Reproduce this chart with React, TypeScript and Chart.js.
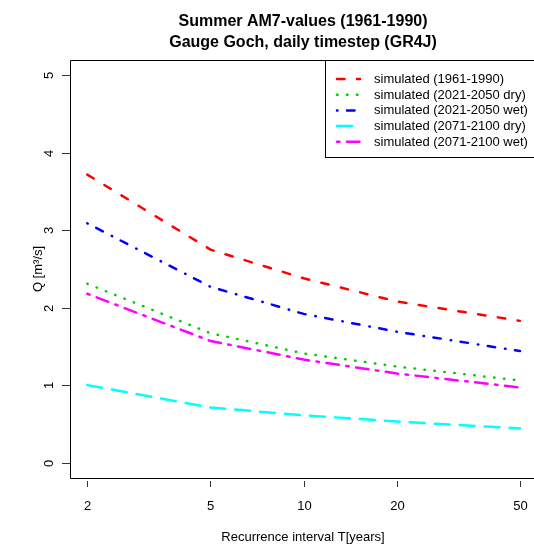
import React, { useEffect, useRef } from "react";
import { Chart, registerables } from "chart.js";

Chart.register(...registerables);

// ---- data ----
const returnPeriods = [2, 5, 10, 20, 50];
const sim1961_1990 = [3.72, 2.75, 2.38, 2.08, 1.83];
const sim2021_2050dry = [2.31, 1.67, 1.41, 1.24, 1.06];
const sim2021_2050wet = [3.09, 2.27, 1.92, 1.69, 1.44];
const sim2071_2100dry = [1.0, 0.71, 0.61, 0.53, 0.44];
const sim2071_2100wet = [2.18, 1.57, 1.33, 1.15, 0.97];

const seriesLabels = [
  "simulated (1961-1990)",
  "simulated (2021-2050 dry)",
  "simulated (2021-2050 wet)",
  "simulated (2071-2100 dry)",
  "simulated (2071-2100 wet)",
];
const seriesValues = [sim1961_1990, sim2021_2050dry, sim2021_2050wet, sim2071_2100dry, sim2071_2100wet];
const seriesColors = ["#FF0000", "#00CD00", "#0000FF", "#00FFFF", "#FF00FF"];
// R lty 2,3,4,5,6 at lwd 2.5 with round caps
const seriesDashes = [
  [7.5, 12.5],
  [0.5, 9.5],
  [0.5, 9.5, 7.5, 10],
  [15, 10],
  [2.5, 7.5, 12.5, 7.5],
];

const xTicks = [2, 5, 10, 20, 50];
const yTicks = [0, 1, 2, 3, 4, 5];
const titleLines = ["Summer AM7-values (1961-1990)", "Gauge Goch, daily timestep (GR4J)"];
const xTitle = "Recurrence interval T[years]";
const yTitle = "Q [m³/s]";

const FONT = "'Liberation Sans', Arial, sans-serif";
const LW = 2.5;

const rPlugin = {
  id: "rstyle",
  afterDraw(chart: any) {
    const { ctx, chartArea: a, scales } = chart;
    const xs = scales.x;
    const ys = scales.y;
    ctx.save();
    ctx.setLineDash([]);
    ctx.strokeStyle = "#000";
    ctx.lineWidth = 1;
    // plot box (right edge extends past canvas)
    ctx.beginPath();
    ctx.rect(a.left + 0.5, a.top + 0.5, a.right - a.left + 12, a.bottom - a.top);
    ctx.stroke();

    ctx.fillStyle = "#000";
    ctx.font = `13px ${FONT}`;
    // y ticks + labels
    ctx.strokeStyle = "#333";
    for (const v of yTicks) {
      const py = Math.round(ys.getPixelForValue(v)) + 0.5;
      ctx.beginPath();
      ctx.moveTo(a.left - 8, py);
      ctx.lineTo(a.left, py);
      ctx.stroke();
      ctx.save();
      ctx.translate(49, py);
      ctx.rotate(-Math.PI / 2);
      ctx.textAlign = "center";
      ctx.textBaseline = "middle";
      ctx.fillText(String(v), 0, 0);
      ctx.restore();
    }
    // x ticks + labels
    for (const v of xTicks) {
      const px = Math.round(xs.getPixelForValue(v)) + 0.5;
      ctx.beginPath();
      ctx.moveTo(px, a.bottom + 3);
      ctx.lineTo(px, a.bottom + 9);
      ctx.stroke();
      ctx.textAlign = "center";
      ctx.textBaseline = "middle";
      ctx.fillText(String(v), px, 506);
    }
    // axis titles
    const cx = 303;
    ctx.textAlign = "center";
    ctx.textBaseline = "middle";
    ctx.fillText(xTitle, cx, 537);
    ctx.save();
    ctx.translate(38, (a.top + a.bottom) / 2);
    ctx.rotate(-Math.PI / 2);
    ctx.fillText(yTitle, 0, 0);
    ctx.restore();

    // main title
    ctx.font = `bold 16px ${FONT}`;
    ctx.textBaseline = "alphabetic";
    ctx.fillText(titleLines[0], cx, 25.5);
    ctx.fillText(titleLines[1], cx, 46.5);

    // legend
    const lx = 325.5;
    const ly = a.top + 0.5;
    ctx.fillStyle = "#fff";
    ctx.fillRect(lx, ly, 220, 97);
    ctx.strokeStyle = "#000";
    ctx.lineWidth = 1;
    ctx.strokeRect(lx, ly, 220, 97);
    ctx.font = `13px ${FONT}`;
    ctx.textAlign = "left";
    ctx.textBaseline = "middle";
    for (let i = 0; i < seriesLabels.length; i++) {
      const y = 79 + i * 15.7;
      ctx.strokeStyle = seriesColors[i];
      ctx.lineWidth = LW;
      ctx.lineCap = "round";
      ctx.setLineDash(seriesDashes[i]);
      ctx.beginPath();
      ctx.moveTo(337, y);
      ctx.lineTo(360, y);
      ctx.stroke();
      ctx.setLineDash([]);
      ctx.fillStyle = "#000";
      ctx.fillText(seriesLabels[i], 374, y + 0.5);
    }
    ctx.restore();
  },
};

export default function App() {
  const ref = useRef<HTMLCanvasElement | null>(null);
  useEffect(() => {
    if (!ref.current) return;
    const chart = new Chart(ref.current, {
      type: "line",
      data: {
        datasets: seriesValues.map((vals, i) => ({
          label: seriesLabels[i],
          data: returnPeriods.map((t, j) => ({ x: t, y: vals[j] })),
          borderColor: seriesColors[i],
          backgroundColor: seriesColors[i],
          borderWidth: LW,
          borderDash: seriesDashes[i],
          borderCapStyle: "round",
          borderJoinStyle: "round",
          pointRadius: 0,
          tension: 0,
          fill: false,
        })),
      },
      options: {
        responsive: false,
        animation: false,
        devicePixelRatio: 1,
        layout: { padding: { left: 70, top: 60, right: 0, bottom: 69 } },
        plugins: { legend: { display: false }, title: { display: false }, tooltip: { enabled: false } },
        scales: {
          x: { type: "logarithmic", min: 1.7586, max: 55.49, display: false },
          y: { type: "linear", min: -0.2, max: 5.2, display: false },
        },
      },
      plugins: [rPlugin],
    });
    return () => chart.destroy();
  }, []);
  return (
    <div style={{ position: "fixed", left: 0, top: 0, width: 534, height: 547, background: "#fff" }}>
      <canvas ref={ref} width={534} height={547} style={{ display: "block" }} />
    </div>
  );
}
